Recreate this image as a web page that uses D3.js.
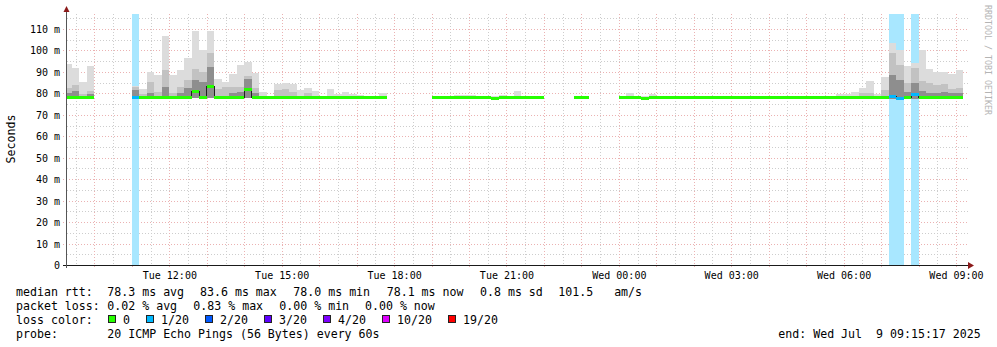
<!DOCTYPE html>
<html>
<head>
<meta charset="utf-8">
<script src="https://cdn.jsdelivr.net/npm/d3@7"></script>
<style>
    body { margin: 0; background: #fff; }
    svg { display: block; font-family: "DejaVu Sans Mono", monospace; }
</style>
</head>
<body>
<svg id="chart" width="997" height="347"></svg>
<script>
// smokeping style graph, 12 minute bins starting Tue 09:12
var binStart = new Date(2025, 6, 8, 9, 12, 0);
var binMinutes = 12;
var rangeStart = new Date(2025, 6, 8, 9, 15, 17);
var rangeEnd = new Date(2025, 6, 9, 9, 15, 17);

// median rtt per bin (ms), null = no data
var median = [
    78.2, 78.2, 78.2, 78.2, null, null, null, null, null, 78.2,
    78.2, 78.2, 78.2, 78.2, 78.2, 78.2, 78.2, 81.0, 78.2, 83.3,
    78.2, 78.2, 78.2, 78.2, 82.2, 78.2, 78.2, 78.2, 78.2, 78.2,
    78.2, 78.2, 78.2, 78.2, 78.2, 78.2, 78.2, 78.2, 78.2, 78.2,
    78.2, 78.2, 78.2, null, null, null, null, null, null, 78.2,
    78.2, 78.2, 78.2, 78.2, 78.2, 78.2, 78.2, 77.7, 78.2, 78.2,
    78.2, 78.2, 78.2, 78.2, null, null, null, null, 78.2, 78.2,
    null, null, null, null, 78.2, 78.2, 78.2, 77.8, 78.2, 78.2,
    78.2, 78.2, 78.2, 78.2, 78.2, 78.2, 78.2, 78.2, 78.2, 78.2,
    78.2, 78.2, 78.2, 78.2, 78.2, 78.2, 78.2, 78.2, 78.2, 78.2,
    78.2, 78.2, 78.2, 78.2, 78.2, 78.2, 78.2, 78.2, 78.2, 78.2,
    79.0, 77.7, 78.2, 79.9, 78.2, 78.2, 78.2, 78.2, 78.2, 78.2,
    null
];

// lost pings out of 20
var loss = [
    0, 0, 0, 0, null, null, null, null, null, 1,
    0, 0, 0, 0, 0, 0, 0, 0, 0, 0,
    0, 0, 0, 0, 0, 0, 0, 0, 0, 0,
    0, 0, 0, 0, 0, 0, 0, 0, 0, 0,
    0, 0, 0, null, null, null, null, null, null, 0,
    0, 0, 0, 0, 0, 0, 0, 0, 0, 0,
    0, 0, 0, 0, null, null, null, null, 0, 0,
    null, null, null, null, 0, 0, 0, 0, 0, 0,
    0, 0, 0, 0, 0, 0, 0, 0, 0, 0,
    0, 0, 0, 0, 0, 0, 0, 0, 0, 0,
    0, 0, 0, 0, 0, 0, 0, 0, 0, 0,
    1, 1, 0, 1, 0, 0, 0, 0, 0, 0,
    null
];

// smoke: fastest ping, outer, middle and inner band tops (ms)
var pingMin = [
    77.6, 77.6, 77.6, 77.6, null, null, null, null, null, 77.6,
    77.6, 77.6, 77.6, 77.6, 77.6, 77.6, 77.6, 77.9, 77.6, 77.9,
    77.6, 77.6, 77.6, 77.6, 77.9, 77.6, 77.6, 77.6, 77.6, 77.6,
    77.6, 77.6, 77.6, 77.6, 77.6, 77.6, 77.6, 77.6, 77.6, 77.6,
    77.6, 77.6, 77.6, null, null, null, null, null, null, 77.6,
    77.6, 77.6, 77.6, 77.6, 77.6, 77.6, 77.6, 77.4, 77.6, 77.6,
    77.6, 77.6, 77.6, 77.6, null, null, null, null, 77.6, 77.6,
    null, null, null, null, 77.6, 77.6, 77.6, 77.4, 77.6, 77.6,
    77.6, 77.6, 77.6, 77.6, 77.6, 77.6, 77.6, 77.6, 77.6, 77.6,
    77.6, 77.6, 77.6, 77.6, 77.6, 77.6, 77.6, 77.6, 77.6, 77.6,
    77.6, 77.6, 77.6, 77.6, 77.6, 77.6, 77.6, 77.6, 77.6, 77.6,
    77.6, 77.4, 77.6, 77.6, 77.6, 77.6, 77.6, 77.6, 77.6, 77.6,
    null
];

var smokeMax = [
    93.6, 91.8, 85.4, 92.8, null, null, null, null, null, 83.4,
    82.0, 90.1, 88.6, 106.8, 88.6, 90.9, 96.3, 109.0, 100.2, 109.0,
    86.7, 85.5, 89.0, 93.2, 94.8, 89.4, 80.5, 78.8, 84.4, 84.7,
    84.2, 81.6, 82.7, 81.3, 79.0, 82.0, 79.7, 80.5, 79.7, 79.3,
    78.8, 78.8, 80.0, null, null, null, null, null, null, 78.8,
    78.8, 78.9, 79.4, 79.4, 79.4, 78.8, 78.8, 78.6, 79.3, 78.8,
    81.1, 78.8, 78.8, 78.8, null, null, null, null, 78.8, 78.8,
    null, null, null, null, 78.8, 80.0, 78.8, 78.6, 79.6, 78.8,
    78.8, 78.8, 78.8, 78.8, 78.8, 78.8, 78.8, 78.8, 78.8, 78.8,
    78.8, 78.8, 78.8, 78.8, 78.8, 78.8, 78.8, 78.8, 78.8, 78.8,
    78.8, 78.8, 78.8, 79.5, 79.8, 80.8, 82.7, 85.8, 79.8, 87.8,
    103.3, 100.2, 92.8, 94.0, 100.2, 91.4, 90.1, 90.1, 89.0, 90.9,
    null
];

var smokeMid = [
    82.7, 83.9, 79.5, 81.1, null, null, null, null, null, 83.0,
    79.5, 85.5, 80.5, 90.9, 80.0, 82.8, 86.2, 91.2, 90.1, 98.7,
    82.0, 82.8, 83.2, 83.2, 88.0, 82.4, null, null, 81.6, 82.0,
    80.5, null, 80.0, null, null, null, null, null, null, null,
    null, null, null, null, null, null, null, null, null, null,
    null, null, null, null, null, null, null, null, null, null,
    null, null, null, null, null, null, null, null, null, null,
    null, null, null, null, null, null, null, null, null, null,
    null, null, null, null, null, null, null, null, null, null,
    null, null, null, null, null, null, null, null, null, null,
    null, null, null, null, null, null, 80.0, 80.0, null, 81.6,
    98.7, 93.2, 84.7, 91.7, 86.0, 85.0, 84.0, 84.5, 82.0, 82.5,
    null
];

var smokeDark = [
    80.0, 81.0, null, 79.5, null, null, null, null, null, 81.5,
    null, 80.0, null, 83.0, null, 80.0, 82.4, 86.2, 85.5, 92.5,
    null, null, 80.0, 80.5, 86.5, 80.0, null, null, null, null,
    null, null, null, null, null, null, null, null, null, null,
    null, null, null, null, null, null, null, null, null, null,
    null, null, null, null, null, null, null, null, null, null,
    null, null, null, null, null, null, null, null, null, null,
    null, null, null, null, null, null, null, null, null, null,
    null, null, null, null, null, null, null, null, null, null,
    null, null, null, null, null, null, null, null, null, null,
    null, null, null, null, null, null, null, null, null, null,
    88.6, 86.2, 80.5, 84.8, 81.0, 80.0, 80.0, 80.5, 80.0, 80.0,
    null
];

var lossLabels = ["0", "1/20", "2/20", "3/20", "4/20", "10/20", "19/20"];
var lossCounts = [0, 1, 2, 3, 4, 10, 19];
var lossColors = ["#26ff00", "#00b8ff", "#0059ff", "#5e00ff", "#7e00ff", "#dd00ff", "#ff0000"];

var rttStats = ["78.3 ms avg", "83.6 ms max", "78.0 ms min", "78.1 ms now", "0.8 ms sd", "101.5   am/s"];
var lossStats = ["0.02 % avg", "0.83 % max", "0.00 % min", "0.00 % now"];
var probeText = "20 ICMP Echo Pings (56 Bytes) every 60s";
var endText = "end: Wed Jul  9 09:15:17 2025";

var svg = d3.select("#chart");
var plotLeft = 67, plotRight = 966, plotTop = 14, plotBottom = 265;

var x = d3.scaleTime().domain([rangeStart, rangeEnd]).range([66.5, 965.5]);
var y = d3.scaleLinear().domain([0, 117]).range([plotBottom, plotTop]);

function binFrom(i) { return d3.timeMinute.offset(binStart, i * binMinutes); }
function binTo(i) { return d3.timeMinute.offset(binStart, (i + 1) * binMinutes); }
function lossColor(n) {
    var c = lossColors[0];
    for (var k = 0; k < lossCounts.length; k++) {
        if (n >= lossCounts[k]) c = lossColors[k];
    }
    return c;
}

svg.append("rect").attr("width", 997).attr("height", 347).attr("fill", "#fff");

svg.append("defs").append("clipPath").attr("id", "plot")
    .append("rect").attr("x", plotLeft).attr("y", plotTop)
    .attr("width", plotRight - plotLeft).attr("height", plotBottom - plotTop);

// grid
var grid = svg.append("g").attr("shape-rendering", "crispEdges");
var minorColor = "#cdcdcd", majorColor = "#ebb2b2";

grid.selectAll("line.ymin")
    .data(d3.range(5, 116, 10))
    .enter().append("line")
    .attr("x1", plotLeft).attr("x2", 968)
    .attr("y1", function (d) { return Math.round(y(d)) + 0.5; })
    .attr("y2", function (d) { return Math.round(y(d)) + 0.5; })
    .attr("stroke", minorColor).attr("stroke-dasharray", "1,2");

grid.selectAll("line.xmin")
    .data(x.ticks(d3.timeMinute.every(30)))
    .enter().append("line")
    .attr("x1", function (d) { return Math.round(x(d)) + 0.5; })
    .attr("x2", function (d) { return Math.round(x(d)) + 0.5; })
    .attr("y1", plotTop).attr("y2", plotBottom)
    .attr("stroke", minorColor).attr("stroke-dasharray", "1,2");

grid.selectAll("line.ymaj")
    .data(d3.range(10, 111, 10))
    .enter().append("line")
    .attr("x1", 63).attr("x2", 968)
    .attr("y1", function (d) { return Math.round(y(d)) + 0.5; })
    .attr("y2", function (d) { return Math.round(y(d)) + 0.5; })
    .attr("stroke", majorColor).attr("stroke-dasharray", "1,2");

grid.selectAll("line.xmaj")
    .data(x.ticks(d3.timeHour.every(1)))
    .enter().append("line")
    .attr("x1", function (d) { return Math.round(x(d)) + 0.5; })
    .attr("x2", function (d) { return Math.round(x(d)) + 0.5; })
    .attr("y1", plotTop).attr("y2", plotBottom + 3)
    .attr("stroke", majorColor).attr("stroke-dasharray", "1,2");

var bins = median.map(function (m, i) {
    return { i: i, med: m, loss: loss[i], min: pingMin[i], max: smokeMax[i], mid: smokeMid[i], dark: smokeDark[i] };
});
var plot = svg.append("g").attr("clip-path", "url(#plot)").attr("shape-rendering", "crispEdges");

// loss background
plot.selectAll("rect.lossbg")
    .data(bins.filter(function (d) { return d.loss > 0; }))
    .enter().append("rect")
    .attr("x", function (d) { return x(binFrom(d.i)); })
    .attr("width", function (d) { return x(binTo(d.i)) - x(binFrom(d.i)); })
    .attr("y", plotTop).attr("height", plotBottom - plotTop)
    .attr("fill", function (d) { return d3.interpolateRgb(lossColor(d.loss), "#fff")(0.66); });

// smoke layers, outer to inner
var layers = [["max", "#dcdcdc"], ["mid", "#c2c2c2"], ["dark", "#8e8e8e"]];
layers.forEach(function (l) {
    plot.selectAll("rect.smoke-" + l[0])
        .data(bins.filter(function (d) { return d[l[0]] != null; }))
        .enter().append("rect")
        .attr("x", function (d) { return x(binFrom(d.i)); })
        .attr("width", function (d) { return x(binTo(d.i)) - x(binFrom(d.i)); })
        .attr("y", function (d) { return y(d[l[0]]); })
        .attr("height", function (d) { return y(d.min) - y(d[l[0]]); })
        .attr("fill", l[1]);
});

// thin median step line
var pts = [];
bins.forEach(function (d) {
    pts.push([binFrom(d.i), d.med]);
    pts.push([binTo(d.i), d.med]);
});
plot.append("path")
    .datum(pts)
    .attr("fill", "none")
    .attr("stroke", "#202020")
    .attr("stroke-width", 1)
    .attr("d", d3.line()
        .defined(function (p) { return p[1] != null; })
        .x(function (p) { return x(p[0]); })
        .y(function (p) { return Math.round(y(p[1])) + 0.5; }));

// median band coloured by loss
plot.selectAll("rect.med")
    .data(bins.filter(function (d) { return d.med != null; }))
    .enter().append("rect")
    .attr("x", function (d) { return x(binFrom(d.i)); })
    .attr("width", function (d) { return x(binTo(d.i)) - x(binFrom(d.i)); })
    .attr("y", function (d) { return Math.round(y(d.med)) - 1; })
    .attr("height", 3)
    .attr("fill", function (d) { return lossColor(d.loss); });

// axes
var ax = svg.append("g").attr("shape-rendering", "crispEdges");
ax.append("line").attr("x1", 63).attr("x2", 968).attr("y1", plotBottom + 0.5).attr("y2", plotBottom + 0.5)
    .attr("stroke", "#1a1a1a");
ax.append("line").attr("x1", plotLeft - 0.5).attr("x2", plotLeft - 0.5).attr("y1", plotBottom + 3).attr("y2", 11)
    .attr("stroke", "#555");
svg.append("path").attr("d", "M968,262L974,265.5L968,269Z").attr("fill", "#8b1a1a");
svg.append("path").attr("d", "M63.5,12L66.5,6L69.5,12Z").attr("fill", "#8b1a1a");

var xAxis = d3.axisBottom(x)
    .tickValues(x.ticks(d3.timeHour.every(3)))
    .tickFormat(d3.timeFormat("%a %H:%M"))
    .tickSize(0).tickPadding(0);
var gx = svg.append("g").attr("transform", "translate(0," + plotBottom + ")").call(xAxis);
gx.select(".domain").remove();
gx.selectAll("text").attr("dy", null).attr("y", 13.5)
    .style("font-family", "DejaVu Sans Mono").style("font-size", "10px").attr("fill", "#000");

var yAxis = d3.axisLeft(y)
    .tickValues(d3.range(0, 111, 10))
    .tickFormat(function (d) { return d === 0 ? "0" : d + " m"; })
    .tickSize(0).tickPadding(0);
var gy = svg.append("g").attr("transform", "translate(60,0)").call(yAxis);
gy.select(".domain").remove();
gy.selectAll("text").attr("dy", "0.35em").attr("x", 0)
    .style("font-family", "DejaVu Sans Mono").style("font-size", "10px").attr("fill", "#000");

svg.append("text")
    .attr("transform", "translate(14.5,139) rotate(-90)")
    .attr("text-anchor", "middle")
    .style("font-size", "11.6px")
    .text("Seconds");

svg.append("text")
    .attr("transform", "translate(984.5,5) rotate(90)")
    .style("font-size", "8.3px")
    .attr("fill", "#b4b4b4")
    .text("RRDTOOL / TOBI OETIKER");

// legend
var leg = svg.append("g").style("font-size", "11.6px").attr("fill", "#000");
var rowY = [295.5, 309.5, 323.5, 337.5];
leg.append("text").attr("x", 16).attr("y", rowY[0]).text("median rtt:");
var rttX = [107.3, 200, 293.3, 386.7, 480, 558.3];
rttStats.forEach(function (s, i) {
    leg.append("text").attr("x", rttX[i]).attr("y", rowY[0]).attr("xml:space", "preserve").text(s);
});
leg.append("text").attr("x", 16).attr("y", rowY[1]).text("packet loss:");
var lossX = [107.3, 193.3, 279.3, 365];
lossStats.forEach(function (s, i) {
    leg.append("text").attr("x", lossX[i]).attr("y", rowY[1]).text(s);
});
leg.append("text").attr("x", 16).attr("y", rowY[2]).text("loss color:");
var lx = 108;
lossLabels.forEach(function (s, i) {
    leg.append("rect").attr("x", lx + 0.5).attr("y", 315.5).attr("width", 7).attr("height", 7)
        .attr("fill", lossColors[i]).attr("stroke", "#222").attr("shape-rendering", "crispEdges");
    leg.append("text").attr("x", lx + 15).attr("y", rowY[2]).text(s);
    lx = lx + 15 + s.length * 7 + 16;
});
leg.append("text").attr("x", 16).attr("y", rowY[3]).text("probe:");
leg.append("text").attr("x", 107.3).attr("y", rowY[3]).text(probeText);
leg.append("text").attr("x", 778.3).attr("y", rowY[3]).attr("xml:space", "preserve").text(endText);
</script>
</body>
</html>
